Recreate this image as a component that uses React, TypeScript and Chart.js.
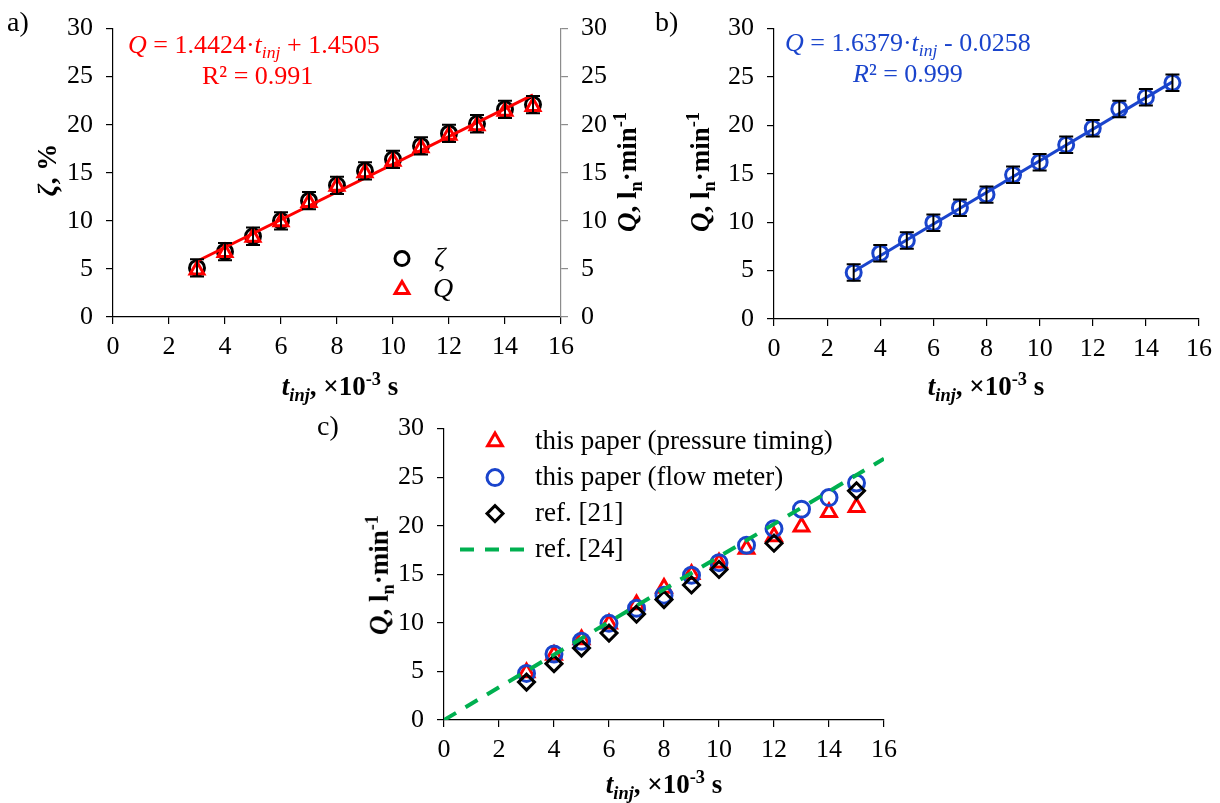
import React, { useEffect, useRef } from 'react';
import { Chart, registerables } from 'chart.js';

Chart.register(...registerables);

// ---------- data ----------
const tInj = [3, 4, 5, 6, 7, 8, 9, 10, 11, 12, 13, 14, 15];
const zetaPct = [5.1, 6.8, 8.4, 10.0, 12.1, 13.7, 15.2, 16.4, 17.8, 19.1, 20.1, 21.6, 22.1];
const zetaErr = [0.9, 0.9, 0.9, 0.9, 0.9, 0.9, 0.9, 0.9, 0.9, 0.9, 0.9, 0.9, 0.9];
const qPressure = [4.9, 6.7, 8.3, 9.9, 11.9, 13.6, 15.0, 16.2, 17.6, 18.9, 19.9, 21.4, 21.9];
const qFlow = [4.8, 6.8, 8.1, 9.95, 11.5, 12.85, 14.9, 16.2, 18.0, 19.7, 21.7, 22.9, 24.4];
const qFlowErr = [0.85, 0.85, 0.85, 0.85, 0.85, 0.85, 0.85, 0.85, 0.85, 0.85, 0.85, 0.85, 0.85];
const fitAT = [3, 15];
const fitAQ = [5.8, 23.1];
const fitBT = [3, 15];
const fitBQ = [4.9, 24.5];
const ref21T = [3, 4, 5, 6, 7, 8, 9, 10, 12, 15];
const ref21Q = [3.9, 5.8, 7.4, 8.95, 10.9, 12.4, 13.9, 15.5, 18.2, 23.6];
const ref24T = [0, 16];
const ref24Q = [0, 26.9];

const xMin = 0, xMax = 16, xStep = 2;
const yMin = 0, yMax = 30, yStep = 5;

const RED = '#FF0000';
const BLUE = '#1A44CC';
const GREEN = '#00B050';
const FONT = '"Liberation Serif", "Times New Roman", serif';
const FS = 26;

const pts = (xs: number[], ys: number[]) => xs.map((x, i) => ({ x, y: ys[i] }));

// ---------- plugins ----------
const errorBarPlugin = {
  id: 'errorBars',
  afterDatasetsDraw(chart: any) {
    const ctx = chart.ctx;
    chart.data.datasets.forEach((ds: any, i: number) => {
      const err = ds.errors;
      if (!err) return;
      const meta = chart.getDatasetMeta(i);
      const xs = chart.scales[meta.xAxisID];
      const ys = chart.scales[meta.yAxisID];
      ctx.save();
      ctx.strokeStyle = '#000';
      ctx.lineWidth = 2;
      ds.data.forEach((p: any, j: number) => {
        const x = xs.getPixelForValue(p.x);
        const yt = ys.getPixelForValue(p.y + err[j]);
        const yb = ys.getPixelForValue(p.y - err[j]);
        ctx.beginPath();
        ctx.moveTo(x, yt);
        ctx.lineTo(x, yb);
        ctx.moveTo(x - 7, yt);
        ctx.lineTo(x + 7, yt);
        ctx.moveTo(x - 7, yb);
        ctx.lineTo(x + 7, yb);
        ctx.stroke();
      });
      ctx.restore();
    });
  },
};

function drawMarker(ctx: CanvasRenderingContext2D, style: string, x: number, y: number, r: number) {
  ctx.beginPath();
  if (style === 'circle') {
    ctx.arc(x, y, r, 0, Math.PI * 2);
  } else if (style === 'triangle') {
    for (let k = 0; k < 3; k++) {
      const a = (k * 2 * Math.PI) / 3;
      const px = x + Math.sin(a) * r;
      const py = y - Math.cos(a) * r;
      if (k === 0) ctx.moveTo(px, py);
      else ctx.lineTo(px, py);
    }
    ctx.closePath();
  } else if (style === 'rectRot') {
    ctx.moveTo(x - r, y);
    ctx.lineTo(x, y - r);
    ctx.lineTo(x + r, y);
    ctx.lineTo(x, y + r);
    ctx.closePath();
  }
  ctx.stroke();
}

const inLegendPlugin = {
  id: 'inLegend',
  afterDraw(chart: any, _args: any, opts: any) {
    if (!opts || !opts.items) return;
    const ctx = chart.ctx;
    const { left, top } = chart.chartArea;
    ctx.save();
    opts.items.forEach((it: any) => {
      const ds = chart.data.datasets[it.dataset];
      const cy = top + it.dy;
      ctx.strokeStyle = ds.borderColor;
      if (it.line) {
        ctx.lineWidth = ds.borderWidth;
        ctx.setLineDash(ds.borderDash || []);
        ctx.beginPath();
        ctx.moveTo(left + it.lx1, cy);
        ctx.lineTo(left + it.lx2, cy);
        ctx.stroke();
        ctx.setLineDash([]);
      } else {
        ctx.lineWidth = ds.pointBorderWidth;
        drawMarker(ctx, ds.pointStyle, left + it.mx, cy, it.r ?? ds.pointRadius);
      }
      ctx.fillStyle = '#000';
      ctx.font = `${it.italic ? 'italic ' : ''}${it.size || FS}px ${FONT}`;
      ctx.textBaseline = 'middle';
      ctx.textAlign = 'left';
      ctx.fillText(it.text, left + it.tx, cy);
    });
    ctx.restore();
  },
};

// ---------- axis helpers ----------
const tickFont = { family: FONT, size: FS };

function xAxis(height: number) {
  return {
    type: 'linear',
    min: xMin,
    max: xMax,
    ticks: { stepSize: xStep, color: '#000', font: tickFont, padding: 8, maxRotation: 0 },
    grid: { drawOnChartArea: false, drawTicks: true, tickLength: 7, color: '#000', lineWidth: 1.2 },
    border: { display: true, color: '#000', width: 1.2 },
    afterFit: (s: any) => { s.height = height; },
  };
}

function yAxis(width: number, position: string, color: string) {
  return {
    type: 'linear',
    position,
    min: yMin,
    max: yMax,
    ticks: { stepSize: yStep, color: '#000', font: tickFont, padding: 13 },
    grid: { drawOnChartArea: false, drawTicks: true, tickLength: 7, color, lineWidth: 1.2 },
    border: { display: true, color, width: 1.2 },
    afterFit: (s: any) => { s.width = width; },
  };
}

function baseOptions(padding: any, scales: any, legendItems?: any[]) {
  return {
    responsive: false,
    maintainAspectRatio: false,
    animation: false,
    layout: { padding },
    plugins: {
      legend: { display: false },
      tooltip: { enabled: false },
      inLegend: legendItems ? { items: legendItems } : undefined,
    },
    scales,
  };
}

function useChart(ref: React.RefObject<HTMLCanvasElement>, make: () => any) {
  useEffect(() => {
    if (!ref.current) return;
    const chart = new Chart(ref.current, make());
    return () => chart.destroy();
  }, []);
}

// ---------- panels ----------
function PanelA() {
  const ref = useRef<HTMLCanvasElement>(null);
  useChart(ref, () => ({
    type: 'scatter',
    data: {
      datasets: [
        {
          label: 'fit',
          data: pts(fitAT, fitAQ),
          showLine: true,
          borderColor: RED,
          borderWidth: 3,
          pointRadius: 0,
          yAxisID: 'y2',
        },
        {
          label: 'Q',
          data: pts(tInj, qPressure),
          pointStyle: 'triangle',
          pointRadius: 8,
          pointBorderWidth: 3,
          borderColor: RED,
          pointBorderColor: RED,
          pointBackgroundColor: 'rgba(0,0,0,0)',
          yAxisID: 'y2',
        },
        {
          label: 'ζ',
          data: pts(tInj, zetaPct),
          errors: zetaErr,
          pointStyle: 'circle',
          pointRadius: 7.5,
          pointBorderWidth: 3,
          borderColor: '#000',
          pointBorderColor: '#000',
          pointBackgroundColor: 'rgba(0,0,0,0)',
          yAxisID: 'y',
        },
      ],
    },
    options: baseOptions(
      { top: 23, right: 0, left: 0, bottom: 0 },
      { x: xAxis(83), y: yAxis(113, 'left', '#000'), y2: yAxis(79, 'right', '#8C8C8C') },
      [
        { dataset: 2, mx: 289, dy: 230, tx: 321, text: 'ζ', italic: true, r: 7, size: 28 },
        { dataset: 1, mx: 289, dy: 261, tx: 320, text: 'Q', italic: true, r: 8, size: 28 },
      ]
    ),
    plugins: [errorBarPlugin, inLegendPlugin],
  }));
  return <canvas ref={ref} width={640} height={400} style={{ position: 'absolute', left: 0, top: 0 }} />;
}

function PanelB() {
  const ref = useRef<HTMLCanvasElement>(null);
  useChart(ref, () => ({
    type: 'scatter',
    data: {
      datasets: [
        {
          label: 'fit',
          data: pts(fitBT, fitBQ),
          showLine: true,
          borderColor: BLUE,
          borderWidth: 3,
          pointRadius: 0,
        },
        {
          label: 'Q',
          data: pts(tInj, qFlow),
          errors: qFlowErr,
          pointStyle: 'circle',
          pointRadius: 7.5,
          pointBorderWidth: 3,
          borderColor: BLUE,
          pointBorderColor: BLUE,
          pointBackgroundColor: 'rgba(0,0,0,0)',
        },
      ],
    },
    options: baseOptions(
      { top: 24, right: 21, left: 0, bottom: 0 },
      { x: xAxis(81), y: yAxis(134, 'left', '#000') }
    ),
    plugins: [errorBarPlugin],
  }));
  return <canvas ref={ref} width={580} height={400} style={{ position: 'absolute', left: 640, top: 0 }} />;
}

function PanelC() {
  const ref = useRef<HTMLCanvasElement>(null);
  useChart(ref, () => ({
    type: 'scatter',
    data: {
      datasets: [
        {
          label: 'ref. [24]',
          data: pts(ref24T, ref24Q),
          showLine: true,
          borderColor: GREEN,
          borderWidth: 4,
          borderDash: [14, 11],
          pointRadius: 0,
        },
        {
          label: 'ref. [21]',
          data: pts(ref21T, ref21Q),
          pointStyle: 'rectRot',
          pointRadius: 8,
          pointBorderWidth: 3,
          borderColor: '#000',
          pointBorderColor: '#000',
          pointBackgroundColor: 'rgba(0,0,0,0)',
        },
        {
          label: 'this paper (flow meter)',
          data: pts(tInj, qFlow),
          pointStyle: 'circle',
          pointRadius: 8,
          pointBorderWidth: 3,
          borderColor: BLUE,
          pointBorderColor: BLUE,
          pointBackgroundColor: 'rgba(0,0,0,0)',
        },
        {
          label: 'this paper (pressure timing)',
          data: pts(tInj, qPressure),
          pointStyle: 'triangle',
          pointRadius: 8.5,
          pointBorderWidth: 3,
          borderColor: RED,
          pointBorderColor: RED,
          pointBackgroundColor: 'rgba(0,0,0,0)',
        },
      ],
    },
    options: baseOptions(
      { top: 24, right: 36, left: 0, bottom: 0 },
      { x: xAxis(83), y: yAxis(124, 'left', '#000') },
      [
        { dataset: 3, mx: 51, dy: 13, tx: 91, text: 'this paper (pressure timing)', size: 27 },
        { dataset: 2, mx: 51, dy: 49, tx: 91, text: 'this paper (flow meter)', size: 27 },
        { dataset: 1, mx: 51, dy: 85, tx: 91, text: 'ref. [21]', size: 27 },
        { dataset: 0, line: true, lx1: 16, lx2: 86, dy: 121, tx: 91, text: 'ref. [24]', size: 27 },
      ]
    ),
    plugins: [inLegendPlugin],
  }));
  return <canvas ref={ref} width={600} height={403} style={{ position: 'absolute', left: 320, top: 400 }} />;
}

// ---------- text overlays ----------
const subStyle: React.CSSProperties = { fontSize: '0.68em', verticalAlign: '-0.32em' };
const supStyle: React.CSSProperties = { fontSize: '0.68em', verticalAlign: '0.55em' };

function Abs({ x, y, rotate, children, color, center = true, size = FS }: any) {
  return (
    <div
      style={{
        position: 'absolute',
        left: x,
        top: y,
        transform: `${center ? 'translate(-50%, -50%)' : 'translate(0, -50%)'}${rotate ? ' rotate(-90deg)' : ''}`,
        whiteSpace: 'nowrap',
        fontFamily: FONT,
        fontSize: size,
        lineHeight: 1,
        color: color || '#000',
      }}
    >
      {children}
    </div>
  );
}

const XTitle = () => (
  <span style={{ fontWeight: 'bold' }}>
    <i>t</i>
    <i style={subStyle}>inj</i>, ×10<span style={supStyle}>-3</span> s
  </span>
);

const QTitle = () => (
  <span style={{ fontWeight: 'bold' }}>
    <i>Q</i>, l<span style={subStyle}>n</span>·min<span style={supStyle}>-1</span>
  </span>
);

export default function App() {
  return (
    <div style={{ position: 'absolute', left: 0, top: 0, width: 1220, height: 803, background: '#fff', overflow: 'hidden' }}>
      <PanelA />
      <PanelB />
      <PanelC />

      <Abs x={7} y={22} center={false} size={28}>a)</Abs>
      <Abs x={655} y={22} center={false} size={28}>b)</Abs>
      <Abs x={317} y={426} center={false} size={28}>c)</Abs>

      <Abs x={340} y={387} size={27}><XTitle /></Abs>
      <Abs x={986} y={387} size={27}><XTitle /></Abs>
      <Abs x={664} y={785} size={27}><XTitle /></Abs>

      <Abs x={47} y={170} rotate size={27}><span style={{ fontWeight: 'bold' }}><i>ζ</i>, %</span></Abs>
      <Abs x={628} y={172} rotate size={27}><QTitle /></Abs>
      <Abs x={701} y={172} rotate size={27}><QTitle /></Abs>
      <Abs x={380} y={575} rotate size={27}><QTitle /></Abs>

      <Abs x={128} y={47} center={false} color={RED}>
        <i>Q</i> = 1.4424·<i>t</i><i style={subStyle}>inj</i> + 1.4505
      </Abs>
      <Abs x={202} y={76} center={false} color={RED}>R² = 0.991</Abs>

      <Abs x={785} y={45} center={false} color={BLUE}>
        <i>Q</i> = 1.6379·<i>t</i><i style={subStyle}>inj</i> - 0.0258
      </Abs>
      <Abs x={853} y={74} center={false} color={BLUE}><i>R</i>² = 0.999</Abs>
    </div>
  );
}
